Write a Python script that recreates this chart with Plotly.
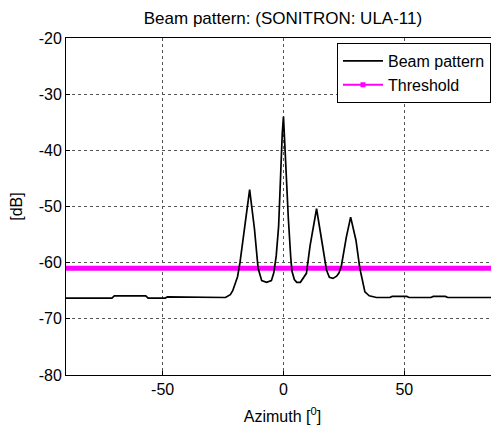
import plotly.graph_objects as go

# Data
azimuth = [-90, -71, -70, -57, -56, -49, -48, -45, -44, -25, -24, -22, -21, -19, -18, -16, -14,
           -12, -10.5, -9, -7, -5, -4, -3, -2, -1.5, -1, -0.5, 0, 0.5, 1, 1.5, 2, 3, 3.5, 4.5,
           5.5, 7, 8, 9.5, 11, 13.7, 16, 17.8, 19, 20.5, 22, 23, 24, 26, 27.8, 30, 31.6, 33.7,
           35.5, 37, 38.5, 44, 45, 51, 52, 61, 62, 67, 68, 90]
beam_db = [-66.3, -66.3, -65.9, -65.9, -66.3, -66.3, -66.1, -66.1, -66.2, -66.2, -66.2, -65.7,
           -65.0, -62.5, -60.0, -53.5, -47.0, -54.0, -61.0, -63.2, -63.5, -63.2, -61.8, -58.8,
           -53.5, -48.0, -42.0, -37.0, -34.0, -39.0, -45.0, -49.0, -52.0, -59.0, -61.5, -63.0,
           -63.5, -63.5, -62.8, -61.9, -57.0, -50.4, -56.5, -61.3, -62.6, -62.8, -62.4, -61.8,
           -60.5, -55.5, -51.9, -56.0, -61.0, -65.2, -65.9, -66.1, -66.2, -66.2, -66.0, -66.0,
           -66.2, -66.2, -66.0, -66.0, -66.2, -66.2]
threshold_db = -61
threshold_az = [-90, 90]

title_text = "Beam pattern: (SONITRON: ULA-11)"
x_ticks = [-50, 0, 50]
x_tick_labels = ["-50", "0", "50"]
y_ticks = [-80, -70, -60, -50, -40, -30, -20]
y_tick_labels = ["-80", "-70", "-60", "-50", "-40", "-30", "-20"]

FONT = "Arial, Liberation Sans, sans-serif"
GRID = "#555555"

fig = go.Figure()
fig.add_trace(go.Scatter(x=threshold_az, y=[threshold_db] * len(threshold_az), mode="lines",
                         line=dict(color="#ff00ff", width=5), showlegend=False, hoverinfo="skip"))
fig.add_trace(go.Scatter(x=azimuth, y=beam_db, mode="lines", name="Beam pattern",
                         line=dict(color="black", width=1.7)))
fig.add_trace(go.Scatter(x=[None], y=[None], mode="lines+markers", name="Threshold",
                         line=dict(color="#ff00ff", width=2),
                         marker=dict(symbol="square", size=5, color="#ff00ff")))

# the page body adds an 8px offset; the figure is sized to fit the 499x427 window
fig.update_layout(
    width=491, height=419,
    margin=dict(l=58, r=0, t=30, b=52),
    paper_bgcolor="white", plot_bgcolor="white",
    font=dict(family=FONT, size=16, color="black"),
    title=dict(text=title_text, x=0.560, xanchor="center", y=0.976, yanchor="middle",
               font=dict(size=17)),
    showlegend=True,
    legend=dict(x=0.9815, xanchor="right", y=0.985, yanchor="top",
                bgcolor="white", bordercolor="black", borderwidth=1,
                font=dict(size=16), tracegroupgap=0, itemwidth=40),
)
fig.update_xaxes(range=[-90, 89.2], tickvals=x_ticks, ticktext=x_tick_labels, showgrid=True,
                 gridcolor=GRID, griddash="3px,3px", gridwidth=1, showline=True,
                 linecolor="black", linewidth=1, mirror=True, ticks="inside", ticklen=4,
                 tickcolor="black", zeroline=False,
                 title=dict(text="Azimuth [<sup>0</sup>]", standoff=13, font=dict(size=16)))
fig.update_yaxes(range=[-80, -20], tickvals=y_ticks, ticktext=y_tick_labels, showgrid=True,
                 gridcolor=GRID, griddash="3px,3px", gridwidth=1, showline=True,
                 linecolor="black", linewidth=1, mirror=False, ticks="inside", ticklen=4,
                 tickcolor="black", zeroline=False,
                 title=dict(text="[dB]", standoff=12, font=dict(size=16)))

fig.write_html("out.html")
